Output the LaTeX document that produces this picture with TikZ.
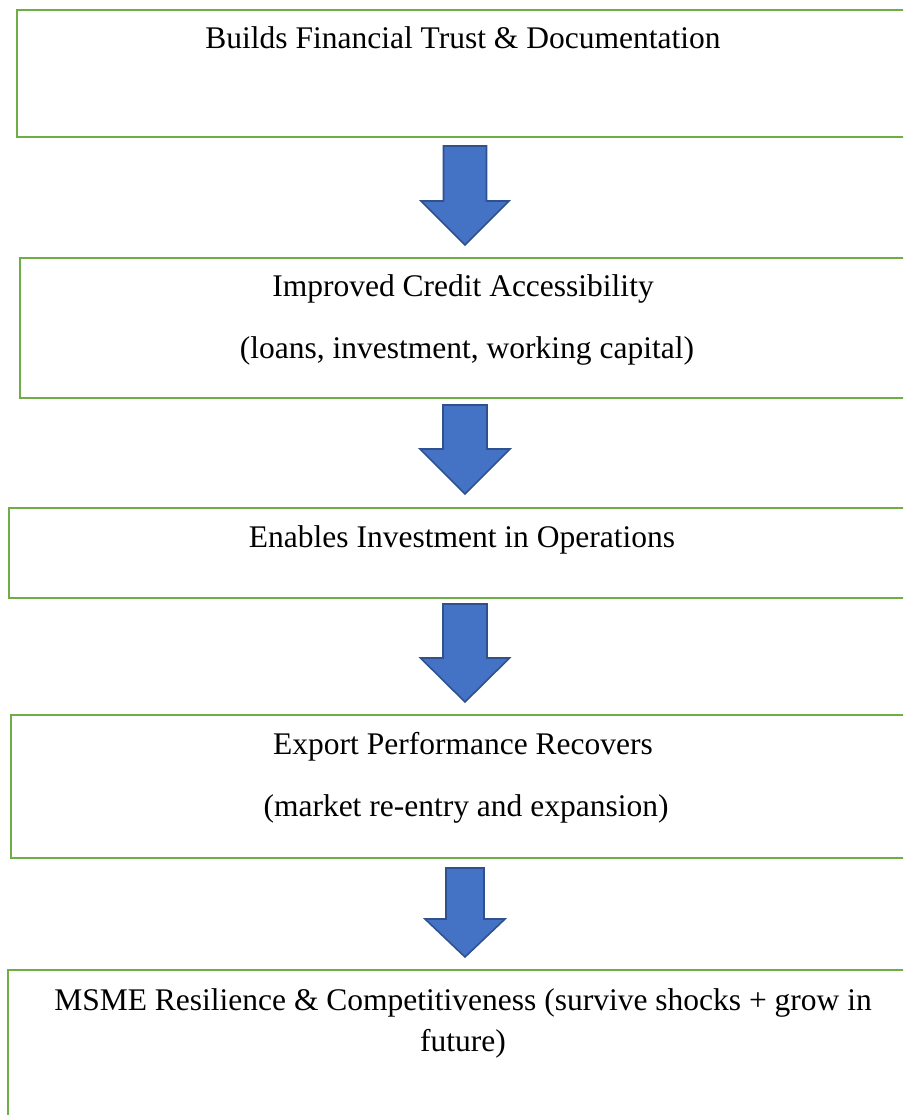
\documentclass[tikz,border=0pt]{standalone}
\usepackage{fontspec}
\setmainfont{Liberation Serif}
\definecolor{boxgreen}{HTML}{70AD47}
\definecolor{arrowblue}{HTML}{4472C4}
\definecolor{arrowedge}{HTML}{2F528F}

% block arrow pointing down: x centre, top y, tip y, shaft half width, head half width, head length
\newcommand\downblock[6]{%
  \draw[flowarrow] (#1-#4,#2) -- (#1+#4,#2) -- (#1+#4,#3-#6) -- (#1+#5,#3-#6)
    -- (#1,#3) -- (#1-#5,#3-#6) -- (#1-#4,#3-#6) -- cycle;}

\begin{document}
\begin{tikzpicture}[x=1pt,y=-1pt,
  stage/.style={draw=boxgreen, line width=2.4pt, fill=white, rectangle,
    inner sep=0pt, anchor=north west},
  stagetext/.style={font=\fontsize{31.5}{36}\selectfont, anchor=base, inner sep=0pt},
  flowarrow/.style={fill=arrowblue, draw=arrowedge, line width=1.6pt, line join=miter}]
\useasboundingbox (0,0) rectangle (903,1115);
\clip (0,0) rectangle (903,1115);

% stages
\node[stage, minimum width=900pt, minimum height=127pt] (s1) at (16,9) {};
\node[stage, minimum width=900pt, minimum height=140pt] (s2) at (19,257) {};
\node[stage, minimum width=900pt, minimum height=90pt]  (s3) at (8,507) {};
\node[stage, minimum width=900pt, minimum height=143pt] (s4) at (10,714) {};
\node[stage, minimum width=900pt, minimum height=170pt] (s5) at (7,969) {};

% stage texts
\node[stagetext] (t1) at (463,49)  {Builds Financial Trust \& Documentation};
\node[stagetext] (t2a) at (463,296) {Improved Credit Accessibility};
\node[stagetext] (t2b) at (467,358) {(loans, investment, working capital)};
\node[stagetext] (t3) at (462,547) {Enables Investment in Operations};
\node[stagetext] (t4a) at (463,754) {Export Performance Recovers};
\node[stagetext] (t4b) at (466,816) {(market re-entry and expansion)};
\node[stagetext] (t5a) at (463,1010) {MSME Resilience \& Competitiveness (survive shocks + grow in};
\node[stagetext] (t5b) at (463,1051) {future)};

% arrows between stages
\downblock{465}{146}{245}{21.5}{44}{44}
\downblock{465}{405}{494}{22}{45}{45}
\downblock{465}{604}{702}{22}{44.5}{44}
\downblock{465}{868}{957}{19}{40}{38}
\end{tikzpicture}
\end{document}
